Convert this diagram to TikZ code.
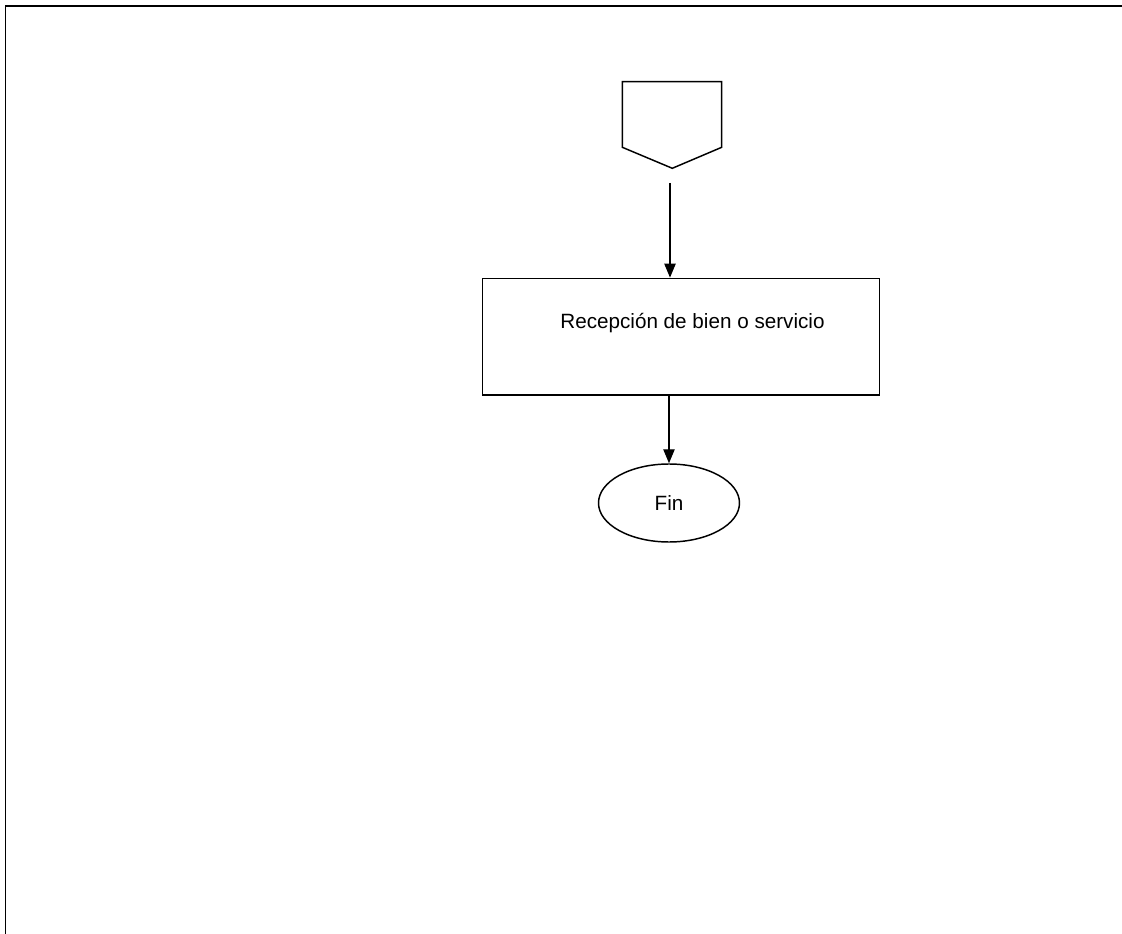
\documentclass[tikz,border=0pt]{standalone}
\usepackage{fontspec}
\setmainfont{Liberation Sans}
\usetikzlibrary{shapes.geometric,arrows.meta}

\tikzset{
  flow/.style={line width=1.1pt, -{Triangle[length=10.5pt,width=8.5pt]}},
  procbox/.style={draw, line width=1.1pt, inner sep=0pt, minimum width=297.5pt, minimum height=87.5pt},
  endnode/.style={draw, ellipse, line width=1.1pt, inner sep=0pt, minimum width=105.75pt, minimum height=58.5pt, font=\fontsize{15.5}{18}\selectfont},
  txt/.style={inner sep=0pt, font=\fontsize{15.5}{18}\selectfont}
}

\begin{document}
\begin{tikzpicture}[x=0.75pt, y=-0.75pt]
        \useasboundingbox (0,0) rectangle (1122,934);

        % Frame
        \draw[line width=1.4pt] (5.5,934) -- (5.5,6) -- (1122,6);

        % Off-page connector
        \coordinate (p1) at (622.3,81.7);
        \coordinate (p2) at (721.7,81.7);
        \coordinate (p3) at (721.7,147.3);
        \coordinate (tip) at (672.3,168.3);
        \coordinate (p5) at (622.3,147.3);
        \draw[line width=1.1pt, line join=miter] (p1) -- (p2) -- (p3) -- (tip) -- (p5) -- cycle;
        \coordinate (start) at (670,183);

        % Nodes
        \node[procbox] (recep) at (681,336.7) {};
        \node[txt] (recepText) at (692.5,323) {Recepción de bien o servicio};
        \node[endnode] (fin) at (669,503) {Fin};

        % Edges
        \draw[flow] (start) -- (start |- recep.north);
        \draw[flow] (recep.south -| fin.north) -- (fin.north);
    \end{tikzpicture}
\end{document}
